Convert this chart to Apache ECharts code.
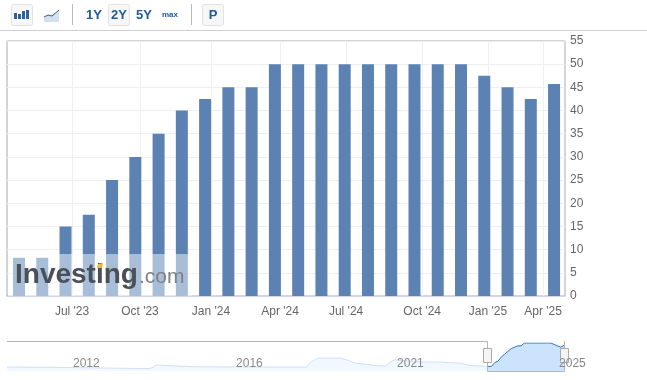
<!DOCTYPE html>
<html>
<head>
<meta charset="utf-8">
<title>Investing chart</title>
<style>
html, body { margin: 0; padding: 0; background: #fff; }
#chart { width: 647px; height: 380px; }
</style>
<script src="https://cdn.jsdelivr.net/npm/echarts@6/dist/echarts.min.js"></script>
</head>
<body>
<div id="chart"></div>
<script>
// monthly bars, one per period
const barValues = [8.25, 8.25, 15, 17.5, 25, 30, 35, 40, 42.5, 45, 45, 50, 50, 50, 50, 50, 50, 50, 50, 50, 47.5, 45, 42.5, 45.75];

// the axis is ordinal, so the ticks do not fall on the bars
const tickPositions = [2.28, 5.2, 8.25, 11.22, 14.06, 17.33, 20.16, 22.53];
const tickLabels = ["Jul '23", "Oct '23", "Jan '24", "Apr '24", "Jul '24", "Oct '24", "Jan '25", "Apr '25"];

// navigator history, before the selected range
const navPeriods = [-145.8, -129.7, -110, -102.5, -101.5, -100.6, -96.4, -88.8, -60, -54.9, -54, -53, -51.5, -44.6, -41.8, -40.3, -32.8, -31.2, -29.7, -28.2, -20.6, -14.6, -8.5, -5.5, 0];
const navValues = [7, 6.5, 4.8, 4.5, 7, 10.7, 9.5, 7.5, 7, 7, 15, 18, 23, 23, 18, 14, 9, 9, 16, 20, 16, 16, 14, 10, 8.25];
const navTickPositions = [-126.7, -77.3, -28.5, 20.6];
const navTickLabels = ['2012', '2016', '2021', '2025'];

const font = '"Liberation Sans", Arial, sans-serif';
const blue = '#1f5a9c';

// 工具栏按钮
function toolButton(x) {
    return {
        type: 'rect', z: 10,
        shape: { x: x + 0.5, y: 4.5, width: 21, height: 21, r: 2 },
        style: { fill: '#f7f7f7', stroke: '#e2e2e2', lineWidth: 1 }
    };
}

function toolText(text, x, size) {
    return {
        type: 'text', z: 11, x: x, y: 15,
        style: { text: text, fill: blue, font: 'bold ' + size + 'px ' + font, align: 'center', verticalAlign: 'middle' }
    };
}

function toolBar(x, y, h) {
    return { type: 'rect', z: 11, shape: { x: x, y: y, width: 3, height: h }, style: { fill: '#2f6298' } };
}

function vLine(x, y1, y2, color) {
    return { type: 'line', z: 12, shape: { x1: x, y1: y1, x2: x, y2: y2 }, style: { stroke: color, lineWidth: 1 } };
}

function navHandle(x) {
    return {
        type: 'group', z: 13,
        children: [
            { type: 'rect', z: 13, shape: { x: x - 3.5, y: 348.5, width: 8, height: 14 }, style: { fill: '#f4f4f4', stroke: '#aaa', lineWidth: 1 } },
            vLine(x - 0.5, 352, 359, '#aaa'),
            vLine(x + 1.5, 352, 359, '#aaa')
        ]
    };
}

const toolGraphics = [
    { type: 'line', shape: { x1: 0, y1: 30.5, x2: 647, y2: 30.5 }, style: { stroke: '#cfcfcf', lineWidth: 1 } },
    toolButton(11),
    toolBar(14, 13, 6), toolBar(18, 14, 5), toolBar(22, 11, 8), toolBar(26, 10, 9),
    {
        type: 'polygon', z: 11,
        shape: { points: [[44, 17], [48, 15], [52, 16], [59, 10], [59, 22], [44, 22]] },
        style: { fill: '#d3e0ee' }
    },
    {
        type: 'polyline', z: 11,
        shape: { points: [[44, 17], [48, 15], [52, 16], [59, 10]] },
        style: { stroke: '#2f6298', lineWidth: 1, fill: null }
    },
    vLine(72.5, 4, 25, '#bbb'),
    toolText('1Y', 94, 13),
    toolButton(108),
    toolText('2Y', 119, 13),
    toolText('5Y', 144, 13),
    toolText('max', 170, 8),
    vLine(191.5, 4, 25, '#bbb'),
    toolButton(202),
    toolText('P', 213, 13)
];

const watermarkGraphics = [
    { type: 'rect', z: 20, shape: { x: 8, y: 254, width: 184, height: 42 }, style: { fill: 'rgba(255,255,255,0.47)' } },
    {
        type: 'text', z: 21, x: 15, y: 289,
        style: { text: 'Investing', fill: '#4b5058', font: 'bold 28px ' + font, verticalAlign: 'bottom' }
    },
    {
        type: 'text', z: 21, x: 139, y: 288,
        style: { text: '.com', fill: '#7d8086', font: '21px "Liberation Sans Narrow", ' + font, verticalAlign: 'bottom' }
    },
    {
        type: 'polygon', z: 22,
        shape: { points: [[98, 264], [103, 263], [102, 268], [97, 268]] },
        style: { fill: '#f7b733' }
    }
];

const navGraphics = [
    {
        type: 'polyline', z: 12,
        shape: { points: [[7, 341.5], [487.5, 341.5], [487.5, 371.5], [564.5, 371.5], [564.5, 341]] },
        style: { stroke: '#b5b5b5', lineWidth: 1, fill: null }
    },
    navHandle(487),
    navHandle(564)
];

const option = {
    animation: false,
    textStyle: { fontFamily: font },
    graphic: { elements: toolGraphics.concat(watermarkGraphics, navGraphics) },
    grid: [
        { left: 7, right: 82, top: 41, bottom: 84, show: true, borderColor: '#aaa', borderWidth: 1 },
        { left: 7, right: 83, top: 343, bottom: 9 }
    ],
    xAxis: [
        {
            type: 'value', gridIndex: 0, min: -0.516, max: 23.47,
            axisLine: { show: true, onZero: false, lineStyle: { color: '#ccd6eb' } },
            axisTick: { show: false, customValues: tickPositions },
            axisLabel: {
                customValues: tickPositions, color: '#666', fontSize: 12, margin: 10,
                formatter: value => tickLabels[tickPositions.indexOf(value)]
            },
            splitLine: { show: true, lineStyle: { color: '#f0f0f0' } }
        },
        {
            type: 'value', gridIndex: 1, min: -145.8, max: 23, z: 30,
            axisLine: { show: false },
            axisTick: { show: false, customValues: navTickPositions },
            axisLabel: {
                customValues: navTickPositions, inside: true, color: '#888', fontSize: 12, margin: 1,
                align: 'left', padding: [0, 0, 0, 3], hideOverlap: false,
                formatter: value => navTickLabels[navTickPositions.indexOf(value)]
            },
            splitLine: { show: false }
        }
    ],
    yAxis: [
        {
            type: 'value', gridIndex: 0, position: 'right', min: 0, max: 55, interval: 5,
            axisLine: { show: false },
            axisTick: { show: false },
            axisLabel: { color: '#666', fontSize: 12, margin: 5, padding: [4, 0, 0, 0] },
            splitLine: { lineStyle: { color: '#eee' } }
        },
        {
            type: 'value', gridIndex: 1, min: 0, max: 50,
            axisLine: { show: false }, axisTick: { show: false }, axisLabel: { show: false }, splitLine: { show: false }
        }
    ],
    series: [
        {
            type: 'bar', xAxisIndex: 0, yAxisIndex: 0, barWidth: 12,
            itemStyle: { color: '#5b82b3' },
            data: barValues.map((v, i) => [i, v])
        },
        {
            type: 'line', xAxisIndex: 1, yAxisIndex: 1, showSymbol: false,
            lineStyle: { color: '#cfe0f3', width: 1 },
            areaStyle: { color: '#f2f8ff', opacity: 1 },
            data: navPeriods.map((p, i) => [p, navValues[i]])
        },
        {
            type: 'line', xAxisIndex: 1, yAxisIndex: 1, showSymbol: false,
            lineStyle: { color: '#2b73c0', width: 1 },
            areaStyle: { color: '#cce3fd', opacity: 1 },
            data: barValues.map((v, i) => [i, v])
        }
    ]
};

const myChart = echarts.init(document.getElementById('chart'), null, { renderer: 'canvas' });
myChart.setOption(option);
</script>
</body>
</html>
